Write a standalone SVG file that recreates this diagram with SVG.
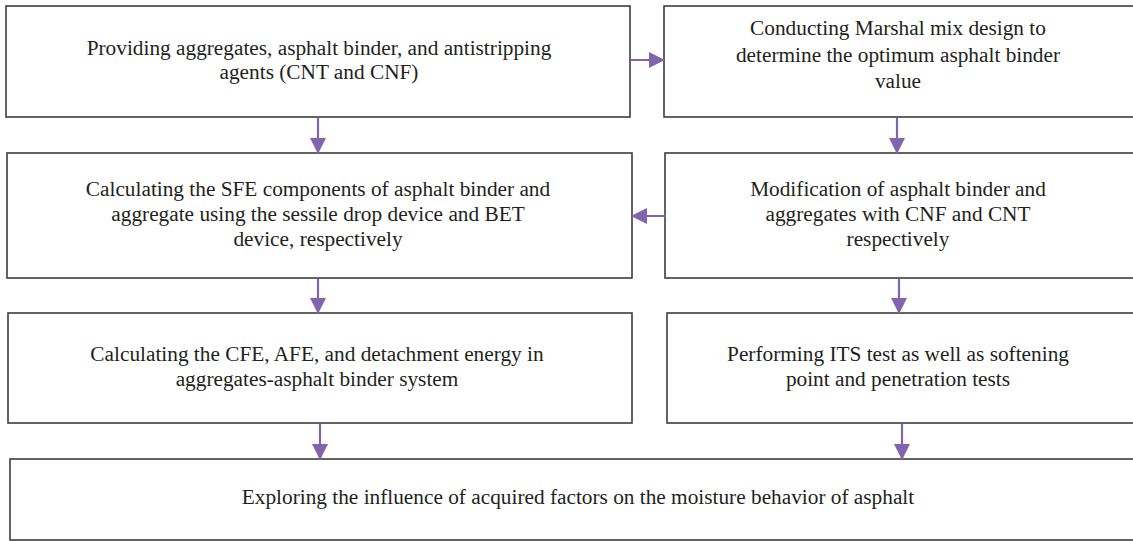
<svg xmlns="http://www.w3.org/2000/svg" width="1133" height="541" viewBox="0 0 1133 541">
<style>
.box{fill:#fff;stroke:#3d3d3d;stroke-width:1.6}
.t{font-family:"Liberation Serif","Times New Roman",serif;font-size:21.3px;fill:#231f20;text-anchor:middle}
.c{stroke:#8064ae;stroke-width:2.2;fill:none}
</style>
<defs>
<marker id="ah" markerUnits="userSpaceOnUse" markerWidth="16" markerHeight="16" viewBox="0 0 16 16" refX="15" refY="8" orient="auto">
<path d="M0,0 L16,8 L0,16 Z" fill="#8064ae"/>
</marker>
</defs>
<rect width="1133" height="541" fill="#fff"/>
<g id="n1"><rect class="box" x="6" y="6" width="624" height="111"/>
<text class="t" x="319" y="55">Providing aggregates, asphalt binder, and antistripping</text>
<text class="t" x="319" y="79">agents (CNT and CNF)</text></g>
<g id="n2"><rect class="box" x="664" y="6" width="480" height="111"/>
<text class="t" x="898" y="35">Conducting Marshal mix design to</text>
<text class="t" x="898" y="62">determine the optimum asphalt binder</text>
<text class="t" x="898" y="88">value</text></g>
<g id="n3"><rect class="box" x="7" y="153" width="625" height="125"/>
<text class="t" x="318" y="196">Calculating the SFE components of asphalt binder and</text>
<text class="t" x="318" y="221">aggregate using the sessile drop device and BET</text>
<text class="t" x="318" y="246">device, respectively</text></g>
<g id="n4"><rect class="box" x="665" y="153" width="480" height="125"/>
<text class="t" x="898" y="196">Modification of asphalt binder and</text>
<text class="t" x="898" y="221">aggregates with CNF and CNT</text>
<text class="t" x="898" y="246">respectively</text></g>
<g id="n5"><rect class="box" x="8" y="313" width="624" height="110"/>
<text class="t" x="317" y="361">Calculating the CFE, AFE, and detachment energy in</text>
<text class="t" x="317" y="386">aggregates-asphalt binder system</text></g>
<g id="n6"><rect class="box" x="667" y="313" width="480" height="110"/>
<text class="t" x="898" y="361">Performing ITS test as well as softening</text>
<text class="t" x="898" y="386">point and penetration tests</text></g>
<g id="n7"><rect class="box" x="10" y="459" width="1140" height="81"/>
<text class="t" x="578" y="504">Exploring the influence of acquired factors on the moisture behavior of asphalt</text></g>
<g id="connectors">
<line class="c" x1="631" y1="60" x2="664" y2="60" marker-end="url(#ah)"/>
<line class="c" x1="318" y1="118" x2="318" y2="153" marker-end="url(#ah)"/>
<line class="c" x1="897" y1="118" x2="897" y2="153" marker-end="url(#ah)"/>
<line class="c" x1="665" y1="216" x2="632" y2="216" marker-end="url(#ah)"/>
<line class="c" x1="318" y1="279" x2="318" y2="313" marker-end="url(#ah)"/>
<line class="c" x1="899" y1="279" x2="899" y2="313" marker-end="url(#ah)"/>
<line class="c" x1="320" y1="424" x2="320" y2="459" marker-end="url(#ah)"/>
<line class="c" x1="902" y1="424" x2="902" y2="459" marker-end="url(#ah)"/>
</g>
</svg>
